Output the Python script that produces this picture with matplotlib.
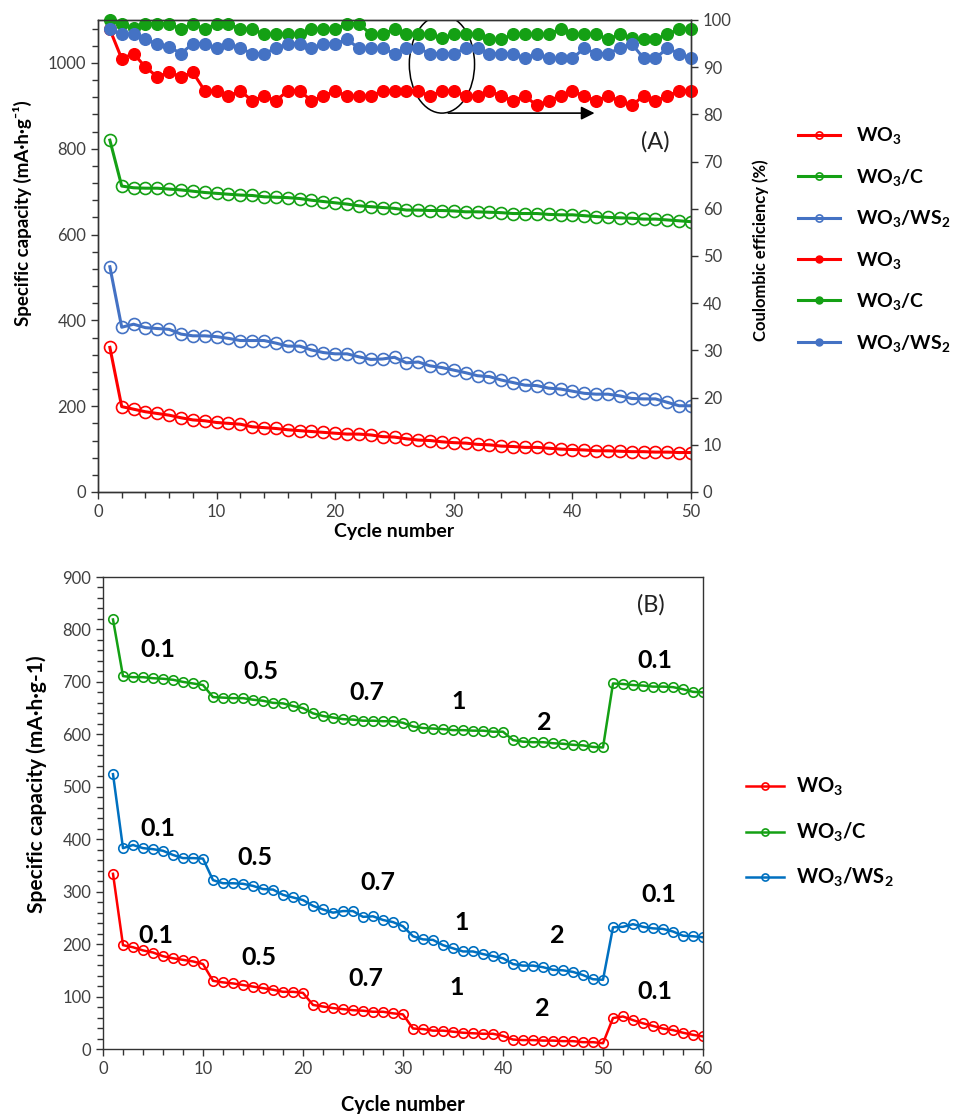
import matplotlib
matplotlib.use('Agg')
import matplotlib.pyplot as plt
from matplotlib.patches import Ellipse
from matplotlib.ticker import MultipleLocator

plt.rcParams['font.family'] = ['Lato', 'DejaVu Sans']
plt.rcParams['mathtext.default'] = 'regular'

# ---------------- Panel A data ----------------
cycles_a = list(range(1, 51))
cap_wo3_a = [337, 199, 193, 187, 183, 179, 173, 168, 166, 162,
             160, 158, 152, 150, 148, 145, 143, 141, 139, 137,
             135, 135, 133, 129, 128, 124, 121, 120, 117, 115,
             114, 111, 110, 107, 106, 104, 104, 102, 100, 99,
             98, 96, 96, 95, 94, 94, 93, 93, 92, 92]
cap_c_a = [820, 713, 709, 708, 708, 706, 704, 701, 698, 696,
           694, 692, 691, 688, 687, 686, 684, 680, 677, 674,
           671, 667, 665, 663, 661, 657, 657, 656, 656, 655,
           653, 653, 652, 651, 649, 649, 649, 647, 646, 646,
           644, 642, 640, 639, 638, 636, 636, 634, 632, 630]
cap_ws2_a = [525, 384, 391, 383, 381, 379, 368, 364, 364, 362,
             358, 353, 353, 353, 347, 340, 340, 331, 325, 322,
             322, 315, 309, 310, 314, 301, 303, 294, 290, 284,
             278, 271, 269, 261, 255, 249, 248, 242, 240, 235,
             230, 228, 228, 224, 218, 217, 217, 209, 201, 201]
ce_wo3_a = [98.0, 91.8, 92.9, 90.0, 88.0, 88.9, 88.0, 88.9, 85.0, 85.0,
            83.9, 85.0, 82.9, 83.9, 82.9, 85.0, 85.0, 82.9, 83.9, 85.0,
            83.9, 83.9, 83.9, 85.0, 85.0, 85.0, 85.0, 83.9, 85.0, 85.0,
            83.9, 83.9, 85.0, 83.9, 82.9, 83.9, 81.9, 82.9, 83.9, 85.0,
            83.9, 82.9, 83.9, 82.9, 81.9, 83.9, 82.9, 83.9, 85.0, 85.0]
ce_c_a = [100.0, 99.2, 98.2, 99.2, 99.2, 99.2, 98.1, 99.2, 98.1, 99.2,
          99.2, 98.1, 98.1, 97.0, 97.0, 97.0, 97.0, 98.1, 98.1, 98.1,
          99.2, 99.2, 97.0, 97.0, 98.1, 97.0, 97.0, 97.0, 96.1, 97.0,
          97.0, 97.0, 95.9, 95.9, 97.0, 97.0, 97.0, 97.0, 98.1, 97.0,
          97.0, 97.0, 95.9, 97.0, 96.1, 95.9, 95.9, 97.0, 98.1, 98.1]
ce_ws2_a = [98.0, 97.0, 97.0, 95.9, 95.0, 94.3, 92.9, 95.0, 95.0, 94.0,
            95.0, 94.0, 92.9, 92.9, 94.0, 95.0, 95.0, 94.0, 95.0, 95.0,
            95.9, 94.0, 94.0, 94.0, 92.9, 94.0, 94.0, 92.9, 92.9, 92.9,
            94.0, 94.0, 92.9, 92.9, 92.9, 91.9, 92.9, 91.9, 91.9, 91.9,
            94.0, 92.9, 92.9, 94.0, 95.0, 91.9, 91.9, 94.0, 92.9, 91.9]
labels_a = ['WO$_3$', 'WO$_3$/C', 'WO$_3$/WS$_2$']

# ---------------- Panel B data ----------------
cycles_b = list(range(1, 61))
cap_c_b = [819, 711, 709, 709, 707, 706, 704, 700, 697, 694,
           671, 670, 669, 669, 666, 664, 660, 659, 654, 650,
           640, 635, 632, 629, 628, 626, 626, 625, 625, 622,
           615, 612, 611, 610, 608, 608, 607, 607, 605, 605,
           589, 586, 585, 585, 583, 582, 580, 579, 576, 575,
           697, 696, 694, 693, 691, 691, 690, 686, 681, 680]
cap_ws2_b = [524, 383, 389, 383, 381, 378, 370, 364, 364, 363,
             322, 316, 316, 315, 311, 305, 304, 294, 289, 284,
             273, 266, 260, 263, 263, 252, 253, 246, 242, 234,
             215, 209, 208, 198, 192, 186, 186, 181, 177, 173,
             162, 159, 159, 156, 151, 150, 147, 141, 133, 132,
             232, 233, 238, 233, 230, 229, 224, 216, 215, 213]
cap_wo3_b = [334, 198, 194, 188, 184, 177, 173, 170, 167, 162,
             130, 127, 125, 122, 119, 116, 113, 109, 109, 107,
             84, 81, 78, 76, 74, 73, 71, 71, 68, 66,
             39, 38, 35, 35, 33, 31, 30, 29, 29, 25,
             18, 17, 17, 16, 16, 15, 15, 13, 13, 11,
             59, 62, 55, 49, 44, 39, 36, 31, 27, 24]
rate_text = ['0.1', '0.5', '0.7', '1', '2', '0.1']
rate_x_c = [5.5, 15.8, 26.4, 35.6, 44.1, 55.2]
rate_y_c = [761, 719, 679, 662, 622, 740]
rate_x_ws2 = [5.5, 15.2, 27.5, 35.9, 45.4, 55.6]
rate_y_ws2 = [421, 366, 318, 242, 217, 294]
rate_x_wo3 = [5.3, 15.6, 26.3, 35.4, 43.9, 55.2]
rate_y_wo3 = [217, 175, 134, 118, 78, 109]

RED = '#FF0000'
GREEN_A = '#14A014'
BLUE_A = '#4472C4'
GREEN_B = '#14A014'
BLUE_B = '#0070C0'
TICKC = '#404040'

W, H = 957, 1114
fig = plt.figure(figsize=(W / 100, H / 100), dpi=100)

def frac(l, t, r, b):
    return [l / W, 1 - b / H, (r - l) / W, (b - t) / H]

# ---------------- Panel A ----------------
ax = fig.add_axes(frac(98, 20, 691, 492))
ax2 = ax.twinx()
lw = 2.2
hA = []
for y, c in zip([cap_wo3_a, cap_c_a, cap_ws2_a], [RED, GREEN_A, BLUE_A]):
    l, = ax.plot(cycles_a, y, '-o', color=c, lw=lw, ms=8.6, mfc='none',
                 mec=c, mew=1.2)
    hA.append(l)
for y, c in zip([ce_wo3_a, ce_c_a, ce_ws2_a], [RED, GREEN_A, BLUE_A]):
    l, = ax2.plot(cycles_a, y, '-o', color=c, lw=lw, ms=8.4, mfc=c, mec=c,
                  clip_on=False)
    hA.append(l)

ax.set_xlim(0, 50)
ax.set_ylim(0, 1100)
ax2.set_ylim(0, 100)
ax.xaxis.set_major_locator(MultipleLocator(10))
ax.xaxis.set_minor_locator(MultipleLocator(2))
ax.yaxis.set_major_locator(MultipleLocator(200))
ax.yaxis.set_minor_locator(MultipleLocator(40))
ax2.yaxis.set_major_locator(MultipleLocator(10))
for a in (ax, ax2):
    a.tick_params(which='both', direction='out', colors='#333333',
                  labelcolor=TICKC, labelsize=12, width=1)
    a.tick_params(which='major', length=5)
    a.tick_params(which='minor', length=4)
    for s in a.spines.values():
        s.set_color('#333333')
        s.set_linewidth(1)
ax.set_xlabel('Cycle number', fontsize=14, fontweight='bold', labelpad=2)
ax.set_ylabel('Specific capacity (mA·h·g⁻¹)', fontsize=13.5, fontweight='bold')
ax.yaxis.set_label_coords(-0.111, 0.59)
ax2.set_ylabel('Coulombic efficiency (%)', fontsize=12, fontweight='bold')
ax2.yaxis.set_label_coords(1.103, 0.513)

ax.add_patch(Ellipse((29.0, 997), 5.5, 228, fill=False, ec='black', lw=1.1,
                     zorder=5))
ax.annotate('', xy=(42.1, 883), xytext=(29.3, 883),
            arrowprops=dict(arrowstyle='-|>', color='black', lw=1.2,
                            mutation_scale=20), zorder=5)
ax.text(47, 816, '(A)', fontsize=17, ha='center', va='center', color='#222222')

fig.legend(hA, labels_a + labels_a, loc='upper left',
           bbox_to_anchor=(780 / W, 1 - 108 / H), frameon=False,
           prop={'weight': 'bold', 'size': 14}, markerscale=0.6,
           handlelength=2.2, handletextpad=0.8, labelspacing=1.05)

# ---------------- Panel B ----------------
bx = fig.add_axes(frac(103, 577, 703, 1049))
hB = []
for y, c in zip([cap_wo3_b, cap_c_b, cap_ws2_b], [RED, GREEN_B, BLUE_B]):
    l, = bx.plot(cycles_b, y, '-o', color=c, lw=1.8, ms=6.8, mfc='none',
                 mec=c, mew=1.2)
    hB.append(l)
for xs, ys in [(rate_x_c, rate_y_c), (rate_x_ws2, rate_y_ws2),
               (rate_x_wo3, rate_y_wo3)]:
    for t, xx, yy in zip(rate_text, xs, ys):
        bx.text(xx, yy, t, fontsize=18, fontweight='bold', ha='center',
                va='center', color='black')
bx.text(54.8, 847, '(B)', fontsize=17, ha='center', va='center', color='#222222')

bx.set_xlim(0, 60)
bx.set_ylim(0, 900)
bx.xaxis.set_major_locator(MultipleLocator(10))
bx.xaxis.set_minor_locator(MultipleLocator(2))
bx.yaxis.set_major_locator(MultipleLocator(100))
bx.yaxis.set_minor_locator(MultipleLocator(20))
bx.tick_params(which='both', direction='out', colors='#333333',
               labelcolor=TICKC, labelsize=12, width=1)
bx.tick_params(which='major', length=5)
bx.tick_params(which='minor', length=4)
for s in bx.spines.values():
    s.set_color('#333333')
    s.set_linewidth(1)
bx.set_xlabel('Cycle number', fontsize=14.5, fontweight='bold', labelpad=13)
bx.set_ylabel('Specific capacity (mA·h·g-1)', fontsize=15, fontweight='bold')
bx.yaxis.set_label_coords(-0.094, 0.56)

fig.legend(hB, labels_a, loc='upper left',
           bbox_to_anchor=(728 / W, 1 - 758 / H), frameon=False,
           prop={'weight': 'bold', 'size': 14.5}, markerscale=0.75,
           handlelength=1.9, handletextpad=0.6, labelspacing=1.1)

fig.savefig('out.png', dpi=100)
